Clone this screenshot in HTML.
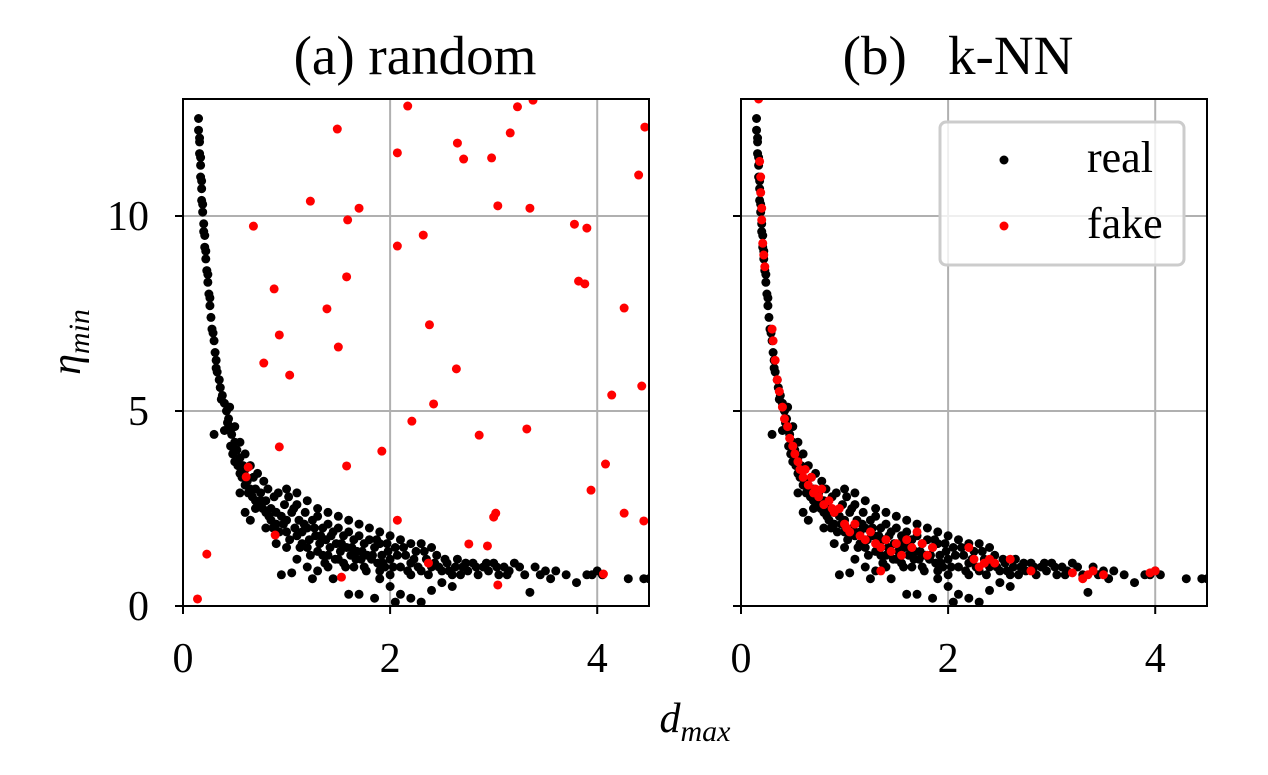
<!DOCTYPE html>
<html><head><meta charset="utf-8"><style>
html,body{margin:0;padding:0;background:#fff;}
svg{display:block;font-family:"Liberation Serif",serif;}
</style></head><body>
<svg id="fig" width="1268" height="775" viewBox="0 0 1268 775" xmlns="http://www.w3.org/2000/svg">
<rect width="1268" height="775" fill="#fff"/>
<text x="415" y="74" font-size="55" text-anchor="middle">(a) random</text>
<text x="958" y="74" font-size="55" text-anchor="middle" xml:space="preserve">(b)   k-NN</text>
<text transform="translate(80,342) rotate(-90)" font-size="42" font-style="italic" text-anchor="middle">η<tspan font-size="30" dy="9">min</tspan></text>
<text x="695" y="732" font-size="42" font-style="italic" text-anchor="middle">d<tspan font-size="30" dy="9">max</tspan></text>
<g id="pa"></g>
<g id="pb"></g>
<g>
<rect x="940" y="122" width="244" height="143" rx="6" fill="#fff" fill-opacity="0.8" stroke="#ccc" stroke-width="3"/>
<circle cx="1004" cy="160" r="4.5" fill="#000"/>
<text x="1087" y="172" font-size="44">real</text>
<circle cx="1004" cy="226" r="4.5" fill="#f00"/>
<text x="1087" y="238" font-size="44">fake</text>
</g>
</svg>
<script>
const xTicks=[0,2,4];
const yTicks=[0,5,10];
const realPts=[[0.15,12.5],[0.15,12.2],[0.16,11.9],[0.16,11.6],[0.17,11.3],[0.17,11.0],[0.18,10.7],[0.18,10.4],[0.19,10.1],[0.2,9.8],[0.21,9.5],[0.21,9.2],[0.22,8.9],[0.23,8.6],[0.24,8.3],[0.25,8.0],[0.26,7.7],[0.27,7.4],[0.28,7.1],[0.3,6.8],[0.31,6.5],[0.32,6.3],[0.33,6.0],[0.35,5.8],[0.36,5.6],[0.38,5.4],[0.4,5.2],[0.42,5.0],[0.44,4.8],[0.45,4.6],[0.47,4.4],[0.5,4.2],[0.52,4.0],[0.55,3.8],[0.58,3.6],[0.6,3.5],[0.4,4.5],[0.45,5.1],[0.5,4.6],[0.48,3.9],[0.55,4.2],[0.6,3.9],[0.62,3.2],[0.65,3.6],[0.68,3.3],[0.7,3.0],[0.72,3.4],[0.75,2.9],[0.78,3.2],[0.8,2.7],[0.82,3.0],[0.85,2.5],[0.88,2.8],[0.9,2.4],[0.92,2.9],[0.95,2.3],[0.98,2.6],[1.0,2.2],[1.02,2.8],[1.05,2.4],[1.08,2.0],[1.1,2.6],[1.12,2.2],[1.15,1.9],[1.18,2.4],[1.2,2.0],[1.22,1.7],[1.25,2.2],[1.28,1.8],[1.3,2.3],[1.32,1.6],[1.35,2.0],[1.38,1.7],[1.4,2.1],[1.42,1.5],[1.45,1.9],[1.48,1.6],[1.5,2.0],[1.52,1.4],[1.55,1.8],[1.58,1.5],[1.6,1.9],[1.62,1.3],[1.65,1.7],[1.68,1.4],[1.7,1.8],[1.72,1.2],[1.75,1.6],[1.78,1.3],[1.8,1.7],[1.82,1.2],[1.85,1.5],[1.88,1.1],[1.9,1.6],[1.92,1.3],[1.95,1.0],[1.98,1.4],[2.0,1.2],[2.05,1.5],[2.1,1.0],[2.15,1.3],[2.2,1.1],[2.25,1.4],[2.3,0.9],[2.35,1.2],[2.4,1.0],[2.45,1.3],[2.5,0.9],[2.55,1.1],[2.6,0.8],[2.65,1.2],[2.7,1.0],[2.75,0.9],[2.8,1.1],[2.85,0.8],[2.9,1.0],[2.95,0.9],[3.0,1.1],[3.05,0.8],[3.1,1.0],[3.15,0.9],[3.2,1.1],[3.3,0.8],[3.35,0.35],[3.4,1.0],[3.5,0.9],[3.55,0.7],[3.7,0.8],[3.8,0.6],[3.9,0.8],[4.0,0.9],[4.3,0.7],[4.45,0.7],[4.5,0.7],[0.3,4.4],[0.55,2.9],[0.6,2.4],[0.7,2.5],[0.8,2.0],[0.9,1.6],[1.0,1.5],[1.1,1.2],[1.2,1.0],[1.25,0.7],[1.3,0.9],[1.45,0.7],[0.95,0.8],[1.05,0.85],[1.6,0.3],[1.7,0.3],[1.85,0.2],[2.0,0.5],[2.05,0.1],[2.1,0.3],[2.2,0.2],[2.3,0.1],[2.4,0.4],[2.5,0.6],[1.9,0.7],[1.4,1.0],[2.2,0.8],[2.6,0.5],[0.65,2.2],[0.75,2.7],[0.5,3.7],[0.55,3.4],[0.6,3.1],[0.65,3.0],[0.7,2.7],[0.8,2.4],[0.85,2.2],[0.9,2.1],[1.0,1.9],[1.1,1.8],[1.15,1.6],[1.2,1.5],[1.3,1.4],[1.35,1.3],[1.4,1.3],[1.5,1.2],[1.55,1.1],[1.65,1.0],[1.75,1.0],[1.9,0.9],[2.0,0.8],[1.0,3.0],[1.1,2.9],[1.2,2.7],[1.3,2.5],[1.4,2.4],[1.5,2.3],[1.6,2.2],[1.7,2.1],[1.8,2.0],[1.9,1.9],[2.0,1.8],[2.1,1.7],[2.2,1.6],[2.3,1.6],[2.4,1.5],
[0.16,12.0],[0.17,11.5],[0.18,10.9],[0.19,10.3],[0.2,9.6],[0.22,9.1],[0.24,8.5],[0.26,7.9],[0.29,7.0],[0.32,6.1],[0.37,5.3],[0.43,4.7],[0.46,4.1],[0.53,3.6],[0.57,3.3],[0.63,2.9],[0.67,2.8],[0.73,2.6],[0.77,2.5],[0.83,2.3],[0.87,2.0],[0.93,1.9],[0.97,2.1],[1.03,1.7],[1.07,2.5],[1.13,1.5],[1.17,2.1],[1.23,1.3],[1.27,2.0],[1.33,1.8],[1.37,1.1],[1.43,1.8],[1.47,1.2],[1.53,1.6],[1.57,1.0],[1.63,1.5],[1.67,1.2],[1.73,1.4],[1.77,0.9],[1.83,1.3],[1.87,1.7],[1.93,1.1],[1.97,1.6],[2.03,1.0],[2.07,1.3],[2.13,1.5],[2.17,0.9],[2.23,1.2],[2.27,1.0],[2.33,1.4],[2.37,0.8],[2.43,1.1],[2.47,1.0],[2.53,1.2],[2.57,0.9],[2.63,1.0],[2.68,0.8],[2.73,1.1],[2.83,1.0],[2.93,1.1],[3.03,1.0],[3.13,0.8],[3.25,1.0],[3.45,0.8],[3.6,0.9],[3.95,0.8],[4.05,0.8]];
const fakeRandom=[[0.14,0.18],[0.23,1.33],[0.68,9.74],[0.88,8.13],[0.78,6.23],[0.93,6.95],[1.03,5.92],[0.93,4.08],[0.89,1.82],[0.63,3.56],[0.61,3.31],[1.23,10.38],[1.49,12.23],[1.39,7.62],[1.5,6.64],[1.59,9.9],[1.7,10.2],[1.58,8.44],[1.58,3.59],[1.53,0.74],[1.92,3.97],[2.07,11.62],[2.07,9.23],[2.17,12.82],[2.32,9.51],[2.38,7.21],[2.42,5.18],[2.21,4.74],[2.07,2.2],[2.37,1.1],[2.65,11.87],[2.71,11.46],[2.64,6.08],[2.86,4.38],[2.76,1.59],[2.94,1.54],[2.98,11.49],[3.04,10.26],[3.02,2.38],[3.0,2.28],[3.04,0.54],[3.16,12.13],[3.23,12.8],[3.38,12.97],[3.35,10.2],[3.32,4.54],[3.78,9.79],[3.9,9.69],[3.82,8.33],[3.88,8.26],[3.94,2.97],[4.06,0.82],[4.08,3.64],[4.14,5.41],[4.26,7.64],[4.26,2.38],[4.4,11.05],[4.46,12.28],[4.43,5.64],[4.45,2.18]];
const fakeKnn=[[0.17,13],[0.18,11.4],[0.19,11.0],[0.19,10.6],[0.2,10.2],[0.2,9.9],[0.21,9.3],[0.22,9.0],[0.23,8.7],[0.3,7.1],[0.31,6.8],[0.33,6.3],[0.35,5.8],[0.37,5.5],[0.4,5.1],[0.42,4.8],[0.45,4.6],[0.47,4.3],[0.5,4.1],[0.52,3.9],[0.55,3.7],[0.57,3.5],[0.6,3.3],[0.62,3.5],[0.65,3.1],[0.68,3.3],[0.7,2.9],[0.72,3.0],[0.75,2.8],[0.78,3.0],[0.8,2.6],[0.85,2.7],[0.88,2.5],[0.9,2.4],[0.95,2.5],[1.0,2.1],[1.02,2.0],[1.05,1.9],[1.1,2.1],[1.15,1.8],[1.2,1.7],[1.25,1.9],[1.3,1.6],[1.35,1.5],[1.4,1.7],[1.45,1.4],[1.5,1.6],[1.55,1.3],[1.6,1.7],[1.65,1.5],[1.7,1.9],[1.75,1.6],[1.8,1.3],[1.85,1.5],[1.35,0.9],[2.2,1.5],[2.25,1.2],[2.3,1.0],[2.35,1.1],[2.4,1.2],[2.45,1.1],[2.6,1.2],[2.8,0.9],[3.2,0.85],[3.3,0.7],[3.35,0.8],[3.4,0.9],[3.5,0.8],[3.95,0.85],[4.0,0.9]];

const NS="http://www.w3.org/2000/svg";
function mk(tag,attrs,parent){const e=document.createElementNS(NS,tag);for(const k in attrs)e.setAttribute(k,attrs[k]);parent.appendChild(e);return e;}
function panel(g,left,fake,prefix,showYLabels){
  const right=left+466,top=99,bottom=606;
  const sx=v=>left+v*(466/4.5);
  const sy=v=>bottom-v*((bottom-top)/13);
  const clip=mk('clipPath',{id:'clip'+prefix},g);
  mk('rect',{x:left,y:top,width:466,height:507},clip);
  xTicks.forEach(t=>{
    const l=mk('line',{x1:sx(t),x2:sx(t),y1:top,y2:bottom,stroke:'#b0b0b0','stroke-width':2},g);
    
    
    const tk=mk('line',{x1:sx(t),x2:sx(t),y1:bottom,y2:bottom+8,stroke:'#000','stroke-width':2},g);
    
    
    const tx=mk('text',{x:sx(t),y:bottom+66,'font-size':42,'text-anchor':'middle'},g);
    tx.textContent=t;
    
    
  });
  yTicks.forEach(t=>{
    const l=mk('line',{x1:left,x2:right,y1:sy(t),y2:sy(t),stroke:'#b0b0b0','stroke-width':2},g);
    
    
    const tk=mk('line',{x1:left-8,x2:left,y1:sy(t),y2:sy(t),stroke:'#000','stroke-width':2},g);
    
    
    if(showYLabels){
      const tx=mk('text',{x:left-34,y:sy(t)+14,'font-size':42,'text-anchor':'end'},g);
      tx.textContent=t;
      
      
    }
  });
  const pts=mk('g',{'clip-path':'url(#clip'+prefix+')'},g);
  realPts.forEach(p=>{
    const c=mk('circle',{cx:sx(p[0]),cy:sy(p[1]),r:4.5,fill:'#000'},pts);
    
    
  });
  fake.forEach(p=>{
    const c=mk('circle',{cx:sx(p[0]),cy:sy(p[1]),r:4.5,fill:'#f00'},pts);
    
    
  });
  const fr=mk('rect',{x:left,y:top,width:466,height:507,fill:'none',stroke:'#000','stroke-width':2},g);
  
  
}
panel(document.getElementById('pa'),183,fakeRandom,'a',true);
panel(document.getElementById('pb'),741,fakeKnn,'b',false);
</script>
</body></html>
